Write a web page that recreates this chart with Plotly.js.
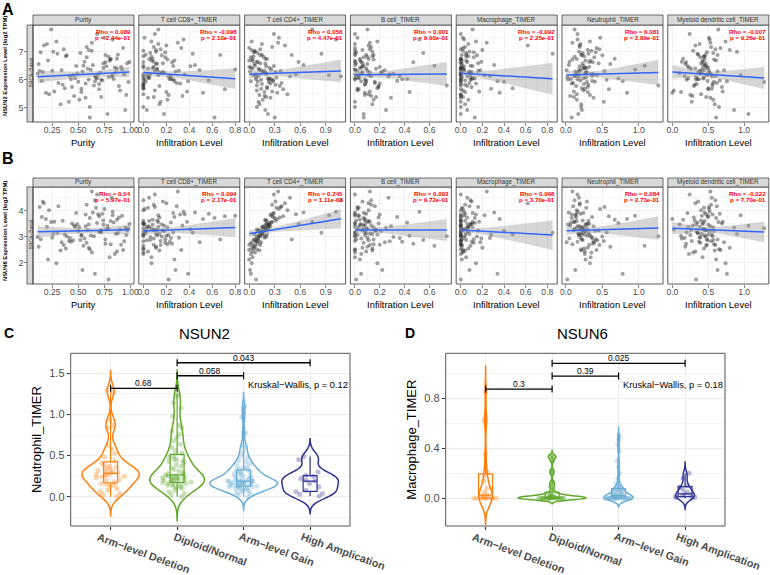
<!DOCTYPE html>
<html><head><meta charset="utf-8">
<script src="https://cdn.plot.ly/plotly-3.0.1.min.js"></script>
<style>html,body{margin:0;padding:0;background:#fff}#chart{width:770px;height:575px}</style>
</head><body><div id="chart"></div>
<script>
// ---------------- data ----------------
const cellTypes = ["Purity","T cell CD8+_TIMER","T cell CD4+_TIMER","B cell_TIMER","Macrophage_TIMER","Neutrophil_TIMER","Myeloid dendritic cell_TIMER"];
const xTitles = ["Purity","Infiltration Level","Infiltration Level","Infiltration Level","Infiltration Level","Infiltration Level","Infiltration Level"];
const cancerLabel = "BRCA\u2212Basal";
const rowYTitles = ["NSUN2 Expression Level (log2 TPM)","NSUN6 Expression Level (log2 TPM)"];

const nsun2Expr = [
 6.35,5.82,6.71,6.05,7.12,5.48,6.24,6.63,5.95,6.88,
 6.12,5.21,6.47,7.35,6.02,5.67,6.55,6.18,4.92,6.79,
 6.41,5.88,7.02,6.26,5.53,6.94,6.09,5.74,6.58,7.62,
 6.31,5.35,6.15,6.83,5.99,4.65,6.45,7.21,5.79,6.22,
 6.67,5.58,6.38,7.48,6.01,5.91,6.52,5.12,6.74,6.29,
 5.84,6.97,6.11,5.42,7.05,6.36,5.69,6.61,7.78,6.07,
 5.28,6.43,6.86,5.97,6.21,7.31,5.61,6.49,4.78,6.92,
 6.16,5.77,6.68,6.04,7.16,5.45,6.33,6.57,5.92,7.42,
 6.27,5.03,6.81,6.13,5.66,6.99,6.39,5.86,6.62,7.08,
 5.38,6.48,6.19,7.26,5.94,6.73,5.56,6.30,6.87,6.00];
const nsun6Expr = [
 3.05,3.62,2.71,3.38,2.49,4.02,3.21,2.93,3.76,3.14,
 4.41,2.84,3.29,1.98,3.55,3.08,2.62,3.87,3.35,2.77,
 3.46,4.18,2.39,3.12,3.69,2.88,1.35,3.51,3.24,4.63,
 2.96,3.41,3.83,2.55,3.17,3.72,2.69,4.29,3.02,3.48,
 2.21,3.58,3.26,4.07,2.81,3.33,3.94,2.47,3.66,1.72,
 3.19,2.91,4.51,3.44,2.58,3.81,3.09,2.73,3.57,4.12,
 3.37,2.34,3.01,3.89,2.99,4.75,3.28,2.65,3.43,3.16,
 2.87,3.74,2.12,3.53,4.24,3.07,2.79,3.63,3.22,3.97,
 4.36,2.52,3.31,2.95,3.79,3.11,2.43,3.86,3.49,2.68,
 3.25,3.92,2.83,3.39,1.58,3.61,3.04,4.15,2.90,3.47];
const purity = [
 0.62,0.35,0.81,0.47,0.93,0.22,0.71,0.56,0.15,0.88,
 0.66,0.41,0.77,0.29,0.84,0.53,0.12,0.69,0.95,0.58,
 0.74,0.31,0.63,0.86,0.19,0.52,0.79,0.44,0.97,0.68,
 0.25,0.57,0.83,0.38,0.72,0.61,0.91,0.17,0.65,0.49,
 0.80,0.27,0.59,0.75,0.43,0.98,0.64,0.33,0.87,0.54,
 0.70,0.14,0.82,0.46,0.60,0.92,0.37,0.76,0.24,0.67,
 0.51,0.85,0.39,0.73,0.11,0.63,0.90,0.55,0.78,0.30,
 0.45,0.89,0.21,0.68,0.58,0.96,0.34,0.74,0.50,0.83,
 0.16,0.61,0.79,0.42,0.70,0.26,0.87,0.57,0.99,0.36,
 0.72,0.48,0.94,0.20,0.66,0.81,0.53,0.13,0.76,0.60];
const cd8 = [
 0.12,0,0.21,0.05,0.33,0,0.18,0.09,0.27,0.02,
 0,0.15,0.41,0.07,0.24,0,0.11,0.36,0.03,0.19,
 0.08,0.29,0,0.14,0.52,0.06,0.22,0,0.17,0.10,
 0.31,0.04,0.13,0,0.26,0.62,0.09,0.20,0,0.16,
 0.07,0.38,0.12,0.01,0.23,0,0.45,0.14,0.08,0.28,
 0,0.19,0.05,0.34,0.11,0.80,0,0.25,0.13,0.04,
 0.21,0,0.16,0.57,0.06,0.30,0.10,0,0.18,0.43,
 0.03,0.14,0.27,0,0.09,0.22,0.49,0.12,0.02,0.35,
 0.17,0,0.07,0.24,0.71,0.11,0.04,0.32,0,0.15,
 0.09,0.26,0,0.13,0.39,0.05,0.20,0.10,0.67,0.01];
const cd4 = [
 0.12,0.31,0.04,0.22,0.00,0.45,0.17,0.09,0.28,0.15,
 1.08,0.11,0.20,0.03,0.26,0.14,0.06,0.55,0.19,0.02,
 0.24,0.38,0.07,0.16,0.33,0.10,0.08,0.21,0.13,0.29,
 0.18,0.25,0.94,0.05,0.14,0.30,0.00,0.42,0.09,0.20,
 0.04,0.27,0.11,0.35,0.08,0.23,0.64,0.12,0.19,0.01,
 0.15,0.06,0.48,0.18,0.03,0.26,0.21,0.10,0.74,0.32,
 0.16,0.02,0.13,0.28,0.20,0.34,0.09,0.07,0.22,0.85,
 0.05,0.36,0.00,0.24,0.27,0.12,0.14,0.19,0.10,1.02,
 0.31,0.09,0.17,0.11,0.40,0.06,0.04,0.25,0.58,0.13,
 0.20,0.29,0.08,0.15,0.02,0.21,0.18,0.37,0.50,0.23];
const bcell = [
 0,0.08,0.15,0.03,0,0.11,0.21,0.05,0.34,0.09,
 0.13,0,0.06,0.18,0.42,0.02,0.10,0,0.25,0.07,
 0.04,0.16,0,0.12,0.08,0.55,0.01,0.19,0.06,0,
 0.10,0.29,0.03,0.14,0,0.07,0.20,0.11,0.74,0.05,
 0,0.12,0.17,0.02,0.38,0.09,0,0.14,0.04,0.22,
 0.08,0.01,0.27,0.13,0.06,0,0.18,0.47,0.10,0.03,
 0.15,0.05,0,0.09,0.31,0.12,0.02,0.64,0.07,0,
 0.11,0.19,0.04,0,0.13,0.08,0.24,0.01,0.16,0.52,
 0.06,0,0.10,0.36,0.03,0.14,0.09,0.20,0,0.12,
 0.17,0.07,0.28,0,0.05,0.11,0.44,0.02,0.15,0.08];
const macrophage = [
 0,0.04,0,0.11,0.02,0,0.07,0.19,0,0.05,
 0.09,0,0.03,0.14,0,0.28,0.01,0,0.06,0.12,
 0,0.08,0.02,0,0.36,0.05,0,0.10,0.16,0,
 0.03,0,0.22,0.07,0,0.13,0.01,0.62,0,0.09,
 0.05,0.17,0,0.02,0.10,0,0.31,0.04,0,0.08,
 0,0.12,0.06,0,0.20,0.03,0.48,0,0.11,0.01,
 0.07,0,0.15,0.04,0,0.24,0.02,0.09,0,0.85,
 0,0.06,0.01,0.13,0.04,0,0.18,0,0.40,0.03,
 0.10,0,0.05,0.27,0,0.08,0.02,0.14,0.06,0,
 0.02,0.11,0,0.07,0.34,0,0.04,0.16,0.01,0.09];
const neutrophil = [
 0.18,0.31,0.09,0.24,0.42,0.15,0.27,0.05,0.36,0.21,
 0.12,0.52,0.19,0.33,0.07,0.26,0.61,0.14,0.22,0.39,
 0.28,0.10,0.35,0.17,0.84,0.23,0.02,0.30,0.45,0.16,
 0.20,0.38,0.13,0.25,0.56,0.08,0.32,0.19,1.27,0.27,
 0.34,0.11,0.23,0.47,0.16,0.29,0.04,0.21,0.67,0.13,
 0.25,0.41,0.18,0.06,0.30,0.95,0.22,0.37,0.12,0.28,
 0.15,0.26,0.50,0.20,0.35,0.09,0.24,1.08,0.17,0.31,
 0.43,0.14,0.27,0.72,0.19,0.33,0.01,0.23,0.40,0.16,
 0.29,0.21,0.12,0.36,0.59,0.18,0.26,0.08,0.32,0.46,
 0.11,0.24,0.38,0.20,0.78,0.15,0.30,0.53,0.22,0.03];
const dendritic = [
 0.45,0.31,0.58,0.22,0.67,0.40,0.52,0.13,0.49,0.36,
 0.60,0.27,0.43,0.74,0.35,0.55,0.18,0.47,0.86,0.39,
 0.50,0.62,0.29,0.41,0.00,0.57,0.33,0.69,0.46,0.24,
 0.38,0.53,0.95,0.44,0.20,0.61,0.48,0.32,0.56,0.10,
 0.42,0.70,0.26,0.51,0.37,1.28,0.45,0.59,0.15,0.63,
 0.34,0.48,0.55,0.28,0.80,0.41,0.50,0.19,0.64,0.44,
 0.57,0.23,0.46,0.66,0.39,0.53,0.02,0.47,1.06,0.35,
 0.49,0.30,0.61,0.43,0.54,0.25,0.72,0.40,0.58,0.52,
 0.36,0.65,0.44,0.17,0.50,0.90,0.32,0.56,0.42,0.60,
 0.47,0.21,0.54,0.38,0.76,0.45,0.12,0.51,0.63,0.33];

const rhoA = ["0.089","-0.098","0.058","0.001","-0.092","0.081","-0.007"];
const pA   = ["2.44e-01","2.10e-01","4.47e-01","9.90e-01","2.25e-01","2.89e-01","9.26e-01"];
const rhoB = ["0.04","0.094","0.245","0.003","0.068","0.084","-0.022"];
const pB   = ["5.97e-01","2.17e-01","1.11e-03","9.72e-01","3.70e-01","2.73e-01","7.70e-01"];
// fitted regression lines
const fitInterceptA = [6.077,6.25,6.19,6.17,6.22,6.16,6.27];
const fitSlopeA     = [0.193,-0.275,0.109,0.04,-0.224,0.07,-0.168];
const fitInterceptB = [3.18,3.22,3.12,3.26,3.26,3.23,3.33];
const fitSlopeB     = [0.091,0.175,0.536,0.0,-0.224,0.087,-0.112];
const nSamples = 173;

const cnvGroups = ["Arm\u2212level Deletion","Diploid/Normal","Arm\u2212level Gain","High Amplication"];
const neutrophilByNsun2 = [
 [0.0,0.02,0.04,0.06,0.08,0.1,0.12,0.14,0.15,0.16,0.18,0.2,0.21,0.23,0.24,0.25,0.26,0.27,0.27,0.28,
  0.29,0.3,0.31,0.32,0.33,0.35,0.36,0.37,0.39,0.41,0.44,0.48,0.53,0.58,0.62,0.84,0.87,0.93,1.27,1.3],
 [0.0,0.02,0.04,0.06,0.08,0.1,0.11,0.12,0.13,0.14,0.15,0.15,0.16,0.17,0.17,0.18,0.19,0.2,0.2,0.21,
  0.21,0.22,0.22,0.23,0.23,0.24,0.24,0.25,0.25,0.26,0.27,0.28,0.3,0.31,0.33,0.35,0.37,0.39,0.41,0.43,
  0.44,0.45,0.46,0.48,0.5,0.53,0.56,0.6,0.64,0.68,0.72,0.76,0.8,0.84,0.87,0.98,1.08,1.14,1.22,1.25],
 [0.0,0.02,0.04,0.05,0.06,0.07,0.08,0.09,0.1,0.1,0.11,0.11,0.12,0.12,0.13,0.13,0.13,0.14,0.14,0.15,
  0.15,0.16,0.16,0.16,0.17,0.17,0.18,0.18,0.18,0.19,0.19,0.19,0.19,0.2,0.2,0.21,0.21,0.22,0.23,0.24,
  0.25,0.26,0.27,0.28,0.29,0.3,0.31,0.32,0.33,0.34,0.35,0.36,0.38,0.4,0.42,0.44,0.47,0.5,0.54,0.6,
  0.63,0.78,0.97,1.1],
 [0.01,0.03,0.04,0.06,0.08,0.12,0.16,0.19,0.2,0.22,0.25,0.26,0.3,0.45,0.49]
];
const macrophageByNsun6 = [
 [0,0,0,0,0,0,0,0.005,0.01,0.02,0.03,0.05,0.08,0.14,0.18,0.21,0.35,0.62,0.63,0.85],
 [0,0,0,0,0,0,0,0,0,0,0,0,0,0,0,0,0,0,0.002,0.004,0.006,0.008,0.01,0.012,0.015,0.018,0.02,0.025,0.03,0.04,
  0.06,0.09,0.11,0.13,0.2,0.22,0.3,0.33,0.33,0.34],
 [0,0,0,0,0,0,0,0,0,0,0,0,0,0,0,0,0,0,0.003,0.005,0.008,0.01,0.012,0.015,0.018,0.02,0.022,0.025,0.028,0.03,
  0.035,0.04,0.045,0.05,0.055,0.06,0.065,0.07,0.075,0.08,0.085,0.09,0.1,0.12,0.16,0.2,0.25,0.3,0.38,0.43,0.47,0.5],
 [0,0.005,0.01,0.015,0.025,0.03,0.035,0.05,0.07,0.09,0.1,0.16,0.2]
];
const compPairs = [[0,1],[1,2],[1,3]];
const pLabelsC = ["0.68","0.058","0.043"];
const bracketYC = [1.319,1.472,1.63];
const pLabelsD = ["0.3","0.39","0.025"];
const bracketYD = [0.874,0.978,1.08];
const kwTextC = "Kruskal\u2212Wallis, p = 0.12";
const kwTextD = "Kruskal\u2212Wallis, p = 0.18";
const kwPosC = [2.04,1.359], kwPosD = [2.04,0.906];

// ---------------- helpers ----------------
const W=770,H=575;
const px=x=>x/W, py=y=>1-y/H;
const FONT='Liberation Sans, Arial, Helvetica, sans-serif';
const groupColors=['#FF7F0E','#5FA82A','#6BAED6','#2E3192'];
function rgba(hex,a){const n=parseInt(hex.slice(1),16);return `rgba(${n>>16},${(n>>8)&255},${n&255},${a})`;}
const mean=a=>a.reduce((s,v)=>s+v,0)/a.length;
function quant(s,p){const h=(s.length-1)*p,lo=Math.floor(h),hi=Math.ceil(h);return s[lo]+(s[hi]-s[lo])*(h-lo);}
function bwNrd0(v){const s=v.slice().sort((a,b)=>a-b),n=v.length,m=mean(v);
 const sd=Math.sqrt(v.reduce((q,x)=>q+(x-m)*(x-m),0)/(n-1));
 const iqr=quant(s,0.75)-quant(s,0.25);let lo=Math.min(sd,iqr/1.34);if(!(lo>0))lo=sd||1;
 return 0.9*lo*Math.pow(n,-0.2);}
function expandRange(v,f){const mn=Math.min(...v),mx=Math.max(...v),r=mx-mn;return [mn-f*r,mx+f*r];}
function band(X,Y,a,b){
 const N=X.length,xb=mean(X);let sxx=0,rss=0;
 for(let k=0;k<N;k++){sxx+=(X[k]-xb)**2;rss+=(Y[k]-a-b*X[k])**2;}
 const s=Math.sqrt(rss/(N-2)),sxxE=sxx*nSamples/N,t=1.974;
 const mn=Math.min(...X),mx=Math.max(...X);const gx=[],up=[],lo=[];
 for(let j=0;j<=60;j++){const x=mn+(mx-mn)*j/60;const se=s*Math.sqrt(1/nSamples+(x-xb)**2/sxxE);const f=a+b*x;gx.push(x);up.push(f+t*se);lo.push(f-t*se);}
 return {x:gx.concat(gx.slice().reverse()),y:up.concat(lo.slice().reverse()),mn,mx};
}

const traces=[], shapes=[], annotations=[];
const layout={width:W,height:H,margin:{l:0,r:0,t:0,b:0},paper_bgcolor:'#fff',plot_bgcolor:'#fff',
 showlegend:false,font:{family:FONT,color:'#000'},violinmode:'overlay',boxmode:'overlay',shapes,annotations};

const xData=[purity,cd8,cd4,bcell,macrophage,neutrophil,dendritic];
const xDtick=[0.25,0.2,0.3,0.2,0.2,0.5,0.5];
const xFmt=['.2f','.1f','.1f','.1f','.1f','.1f','.1f'];
const rows=[
 {y:nsun2Expr,top:25,bottom:122,stripTop:15,yname:'y',yax:'yaxis',ic:fitInterceptA,sl:fitSlopeA,rho:rhoA,p:pA,tickTitleY:143,yTitleC:66,letter:'A',letterY:9},
 {y:nsun6Expr,top:187,bottom:284,stripTop:178,yname:'y2',yax:'yaxis2',ic:fitInterceptB,sl:fitSlopeB,rho:rhoB,p:pB,tickTitleY:304,yTitleC:231,letter:'B',letterY:158}
];
const gridC='#EBEBEB';
rows.forEach((row,r)=>{
 const yr=expandRange(row.y,0.05);
 layout[row.yax]={domain:[py(row.bottom),py(row.top)],anchor:'free',position:px(27),range:yr,dtick:1,tick0:0,
  ticks:'outside',ticklen:2.75,tickwidth:0.6,tickcolor:'#333',tickfont:{size:9,color:'#4d4d4d'},ticklabelstandoff:-1,
  showgrid:true,gridcolor:gridC,gridwidth:0.7,minor:{dtick:0.5,showgrid:true,gridcolor:gridC,gridwidth:0.4},zeroline:false,showline:false};
 shapes.push({type:'rect',xref:'paper',yref:'paper',x0:px(27),x1:px(33),y0:py(row.bottom),y1:py(row.top),fillcolor:'#D9D9D9',line:{color:'#333',width:0.7},layer:'above'});
 annotations.push({xref:'paper',yref:'paper',x:px(30),y:py((row.top+row.bottom)/2),text:cancerLabel,textangle:-90,showarrow:false,font:{size:5,color:'#333'},borderpad:0});
 annotations.push({xref:'paper',yref:'paper',x:px(5),y:py(row.yTitleC),text:'<b>'+rowYTitles[r]+'</b>',textangle:-90,showarrow:false,font:{size:5.8,color:'#000'},borderpad:0});
 annotations.push({xref:'paper',yref:'paper',x:px(8),y:py(row.letterY),text:'<b>'+row.letter+'</b>',showarrow:false,font:{size:16,color:'#000'}});
 for(let i=0;i<7;i++){
  const n=r*7+i+1, xn=n===1?'x':'x'+n, xa=n===1?'xaxis':'xaxis'+n;
  const L=33+i*105.8, R=L+101;
  const X=xData[i];
  layout[xa]={domain:[px(L),px(R)],anchor:row.yname,range:expandRange(X,0.05),dtick:xDtick[i],tick0:0,tickformat:xFmt[i],
   ticks:'outside',ticklen:2.75,tickwidth:0.6,tickcolor:'#333',tickfont:{size:8.6,color:'#4d4d4d'},ticklabelstandoff:-3,
   showgrid:true,gridcolor:gridC,gridwidth:0.7,minor:{dtick:xDtick[i]/2,showgrid:true,gridcolor:gridC,gridwidth:0.4},zeroline:false,showline:false};
  traces.push({type:'scatter',mode:'markers',x:X,y:row.y,xaxis:xn,yaxis:row.yname,marker:{size:4,color:'rgba(45,45,45,0.45)'},hoverinfo:'skip'});
  const bd=band(X,row.y,row.ic[i],row.sl[i]);
  traces.push({type:'scatter',mode:'lines',x:bd.x,y:bd.y,fill:'toself',fillcolor:'rgba(153,153,153,0.4)',line:{width:0},xaxis:xn,yaxis:row.yname,hoverinfo:'skip'});
  traces.push({type:'scatter',mode:'lines',x:[bd.mn,bd.mx],y:[row.ic[i]+row.sl[i]*bd.mn,row.ic[i]+row.sl[i]*bd.mx],line:{color:'#3366FF',width:1.5},xaxis:xn,yaxis:row.yname,hoverinfo:'skip'});
  shapes.push({type:'rect',xref:xn+' domain',yref:row.yname+' domain',x0:0,x1:1,y0:0,y1:1,line:{color:'#333',width:0.8},layer:'above'});
  shapes.push({type:'rect',xref:xn+' domain',yref:'paper',x0:0,x1:1,y0:py(row.top),y1:py(row.stripTop),fillcolor:'#D9D9D9',line:{color:'#333',width:0.7},layer:'above'});
  annotations.push({xref:xn+' domain',yref:'paper',x:0.5,y:py((row.top+row.stripTop)/2),text:cellTypes[i],showarrow:false,font:{size:6.3,color:'#333'},borderpad:0});
  annotations.push({xref:xn+' domain',yref:'paper',x:0.985,xanchor:'right',y:py(row.top+6.6),text:'<b>Rho = '+row.rho[i]+'</b>',showarrow:false,font:{size:6.2,color:'#FF0000'},borderpad:0});
  annotations.push({xref:xn+' domain',yref:'paper',x:0.985,xanchor:'right',y:py(row.top+12.2),text:'<b>p = '+row.p[i]+'</b>',showarrow:false,font:{size:6.2,color:'#FF0000'},borderpad:0});
  annotations.push({xref:xn+' domain',yref:'paper',x:0.5,y:py(row.tickTitleY),text:xTitles[i],showarrow:false,font:{size:9.5,color:'#000'},borderpad:0});
 }
});

// ---------------- violin panels ----------------
function violinPanel(groups,xn,yn,xa,ya,cfg){
 layout[xa]={domain:[px(cfg.L),px(cfg.R)],anchor:yn,type:'category',categoryorder:'array',categoryarray:cnvGroups,range:[-0.6,3.6],
  showgrid:true,gridcolor:gridC,gridwidth:1,ticks:'outside',ticklen:3,tickcolor:'#333',showticklabels:false,zeroline:false,showline:false};
 layout[ya]={domain:[py(526),py(353.3)],anchor:xn,range:cfg.yr,dtick:cfg.dtick,tick0:0,tickformat:'.1f',
  ticks:'outside',ticklen:3,tickcolor:'#333',tickfont:{size:11,color:'#4d4d4d'},
  showgrid:true,gridcolor:gridC,gridwidth:1,minor:{dtick:cfg.dtick/2,showgrid:true,gridcolor:gridC,gridwidth:0.6},
  zeroline:false,showline:false,title:{text:cfg.ytitle,font:{size:13,color:'#000'},standoff:4}};
 groups.forEach((vals,g)=>{
  const bw=bwNrd0(vals),mn=Math.min(...vals),mx=Math.max(...vals);
  const xc=vals.map(()=>cnvGroups[g]);
  traces.push({type:'violin',x:xc,y:vals,xaxis:xn,yaxis:yn,bandwidth:bw,spanmode:'manual',span:[mn-3*bw,mx+3*bw],
   scalemode:'width',width:cfg.vw[g],line:{color:groupColors[g],width:1.5},fillcolor:'rgba(255,255,255,0)',
   points:false,box:{visible:false},meanline:{visible:false},hoverinfo:'skip',name:cnvGroups[g]});
  traces.push({type:'box',x:xc,y:vals,xaxis:xn,yaxis:yn,boxpoints:false,width:0.21,whiskerwidth:0,
   line:{color:groupColors[g],width:1.2},fillcolor:'rgba(255,255,255,0)',hoverinfo:'skip',name:cnvGroups[g]});
  traces.push({type:'box',x:xc,y:vals,xaxis:xn,yaxis:yn,boxpoints:'all',jitter:1,pointpos:0,width:cfg.jw,whiskerwidth:0,
   marker:{color:rgba(groupColors[g],0.33),size:5},line:{color:'rgba(0,0,0,0)',width:0},fillcolor:'rgba(0,0,0,0)',hoverinfo:'skip',name:cnvGroups[g]});
 });
 compPairs.forEach((pr,k)=>{
  traces.push({type:'scatter',mode:'lines+markers',x:[cnvGroups[pr[0]],cnvGroups[pr[1]]],y:[cfg.by[k],cfg.by[k]],xaxis:xn,yaxis:yn,
   line:{color:'#000',width:1.3},marker:{symbol:'line-ns',size:5,color:'#000',line:{color:'#000',width:1.2}},hoverinfo:'skip'});
  annotations.push({xref:xn,yref:yn,x:(pr[0]+pr[1])/2,y:cfg.by[k],yanchor:'bottom',yshift:-1,text:cfg.pl[k],showarrow:false,font:{size:8.5,color:'#000'},borderpad:0});
 });
 annotations.push({xref:xn,yref:yn,x:cfg.kw[0],y:cfg.kw[1],xanchor:'left',text:cfg.kwText,showarrow:false,font:{size:9.3,color:'#000'}});
 cnvGroups.forEach((c,g)=>{
  annotations.push({xref:xn,yref:yn+' domain',x:c,y:0,xanchor:'center',yanchor:'top',xshift:33,yshift:-3,textangle:20,
   text:'<b>'+c+'</b>',showarrow:false,font:{size:10.8,color:'#4d4d4d'},borderpad:0});
 });
 shapes.push({type:'rect',xref:xn+' domain',yref:yn+' domain',x0:0,x1:1,y0:0,y1:1,line:{color:'#555',width:1},layer:'above'});
 annotations.push({xref:'paper',yref:'paper',x:px(cfg.titleX),y:py(333),text:cfg.title,showarrow:false,font:{size:15,color:'#000'}});
 annotations.push({xref:'paper',yref:'paper',x:px(cfg.letterX),y:py(333),text:'<b>'+cfg.letter+'</b>',showarrow:false,font:{size:14,color:'#000'}});
}
violinPanel(neutrophilByNsun2,'x15','y3','xaxis15','yaxis3',{L:70.7,R:350,yr:[-0.356,1.745],dtick:0.5,ytitle:'Neutrophil_TIMER',
 vw:[0.86,0.82,1.02,0.85],jw:0.52,by:bracketYC,pl:pLabelsC,kw:kwPosC,kwText:kwTextC,title:'NSUN2',titleX:205,letter:'C',letterX:9});
violinPanel(macrophageByNsun6,'x16','y4','xaxis16','yaxis4',{L:445.7,R:725,yr:[-0.222,1.16],dtick:0.4,ytitle:'Macrophage_TIMER',
 vw:[0.2,1.02,0.44,0.28],jw:0.42,by:bracketYD,pl:pLabelsD,kw:kwPosD,kwText:kwTextD,title:'NSUN6',titleX:582,letter:'D',letterX:410});

annotations.forEach(a=>{if(!a.xanchor)a.xanchor='center';if(!a.yanchor)a.yanchor='middle';});
traces.forEach(t=>{t.showlegend=false;});
Plotly.newPlot('chart',traces,layout,{displayModeBar:false,staticPlot:true});
</script></body></html>
